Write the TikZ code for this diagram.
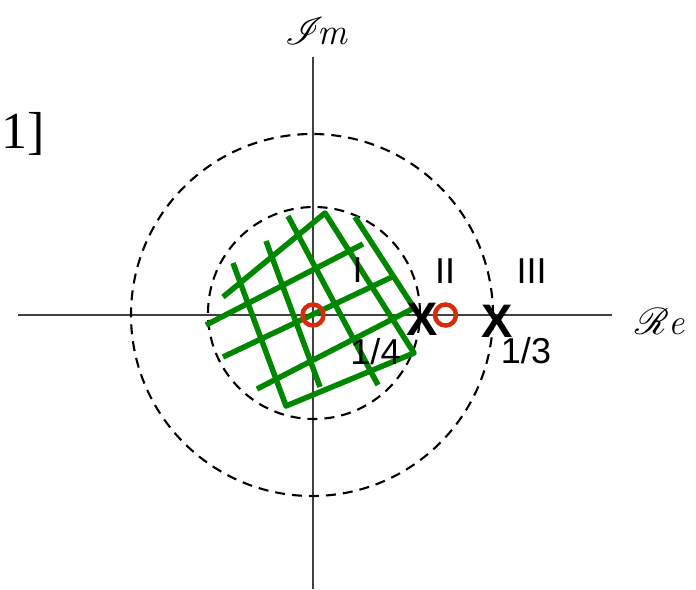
\documentclass[tikz,border=0pt]{standalone}
\usepackage{fontspec}
\usepackage{mathrsfs}
\newfontfamily\labfont{Liberation Sans}
\newfontfamily\brfont{Liberation Serif}
\definecolor{gridgreen}{RGB}{0,135,0}
\definecolor{zred}{RGB}{214,44,14}
\begin{document}
\begin{tikzpicture}[x=1pt,y=-1pt,
 axis/.style={draw=black!75, line width=1.1pt},
 dcirc/.style={draw=black, line width=2.1pt, dash pattern=on 10pt off 7pt},
 grn/.style={draw=gridgreen, line width=5.5pt, line join=round},
 zero/.style={draw=zred, line width=4.5pt, circle, minimum size=21pt, inner sep=0pt},
 lbl/.style={font=\labfont\fontsize{36}{40}\selectfont, inner sep=0pt},
 pole/.style={font=\labfont\bfseries\fontsize{47}{50}\selectfont, inner sep=0pt},
 axlbl/.style={inner sep=0pt}]
\useasboundingbox (0,0) rectangle (696,589);
% axes
\coordinate (xl) at (18,315); \coordinate (xr) at (612,315);
\coordinate (yt) at (313,57); \coordinate (yb) at (313,589);
\draw[axis] (xl) -- (xr);
\draw[axis] (yt) -- (yb);
% dashed circles
\coordinate (O1) at (312,315);
\coordinate (O2) at (314,313);
\draw[dcirc] (O1) circle[radius=181pt];
\draw[dcirc] (O2) circle[radius=106pt];
% green grid
\coordinate (a1s) at (223,297);
\coordinate (tc) at (325,213);
\coordinate (brc) at (414,353);
\coordinate (blc) at (286,406);
\coordinate (b1s) at (233,263);
\coordinate (b5s) at (355,217);
\coordinate (rc) at (414,308);
\coordinate (a4s) at (257,389);
\coordinate (a2s) at (206,325); \coordinate (a2e) at (363,244);
\coordinate (a3s) at (223,357); \coordinate (a3e) at (392,277);
\coordinate (b2s) at (266,241); \coordinate (b2e) at (320,387);
\coordinate (b3s) at (288,216); \coordinate (b3e) at (378,385);
\draw[grn] (a1s) -- (tc) -- (brc) -- (blc) -- (b1s);
\draw[grn] (b5s) -- (rc) -- (a4s);
\draw[grn] (a2s) -- (a2e);
\draw[grn] (a3s) -- (a3e);
\draw[grn] (b2s) -- (b2e);
\draw[grn] (b3s) -- (b3e);
% zeros
\node[zero] (z0) at (313,315) {};
\node[zero] (z1) at (445.5,315) {};
% poles
\node[pole] (p1) at (422,319) {X};
\node[pole] (p2) at (497.5,321.5) {X};
% labels
\node[lbl] (lI) at (357.5,270) {I};
\node[lbl] (lII) at (445,271.5) {II};
\node[lbl] (lIII) at (531.5,271.5) {III};
\node[lbl] (q4) at (375.5,351.5) {1/4};
\node[lbl] (q3) at (526,351) {1/3};
\node[axlbl] (im) at (316,31) {\scalebox{1.55}{\fontsize{24}{28}\selectfont$\mathscr{I}\!\mathit{m}$}};
\node[axlbl] (re) at (660,322) {\scalebox{1.5}{\fontsize{24}{28}\selectfont$\mathscr{R}\mathit{e}$}};
\node[anchor=base west, font=\brfont\fontsize{52}{56}\selectfont, inner sep=0pt] (br) at (1,148) {1]};
\end{tikzpicture}
\end{document}
